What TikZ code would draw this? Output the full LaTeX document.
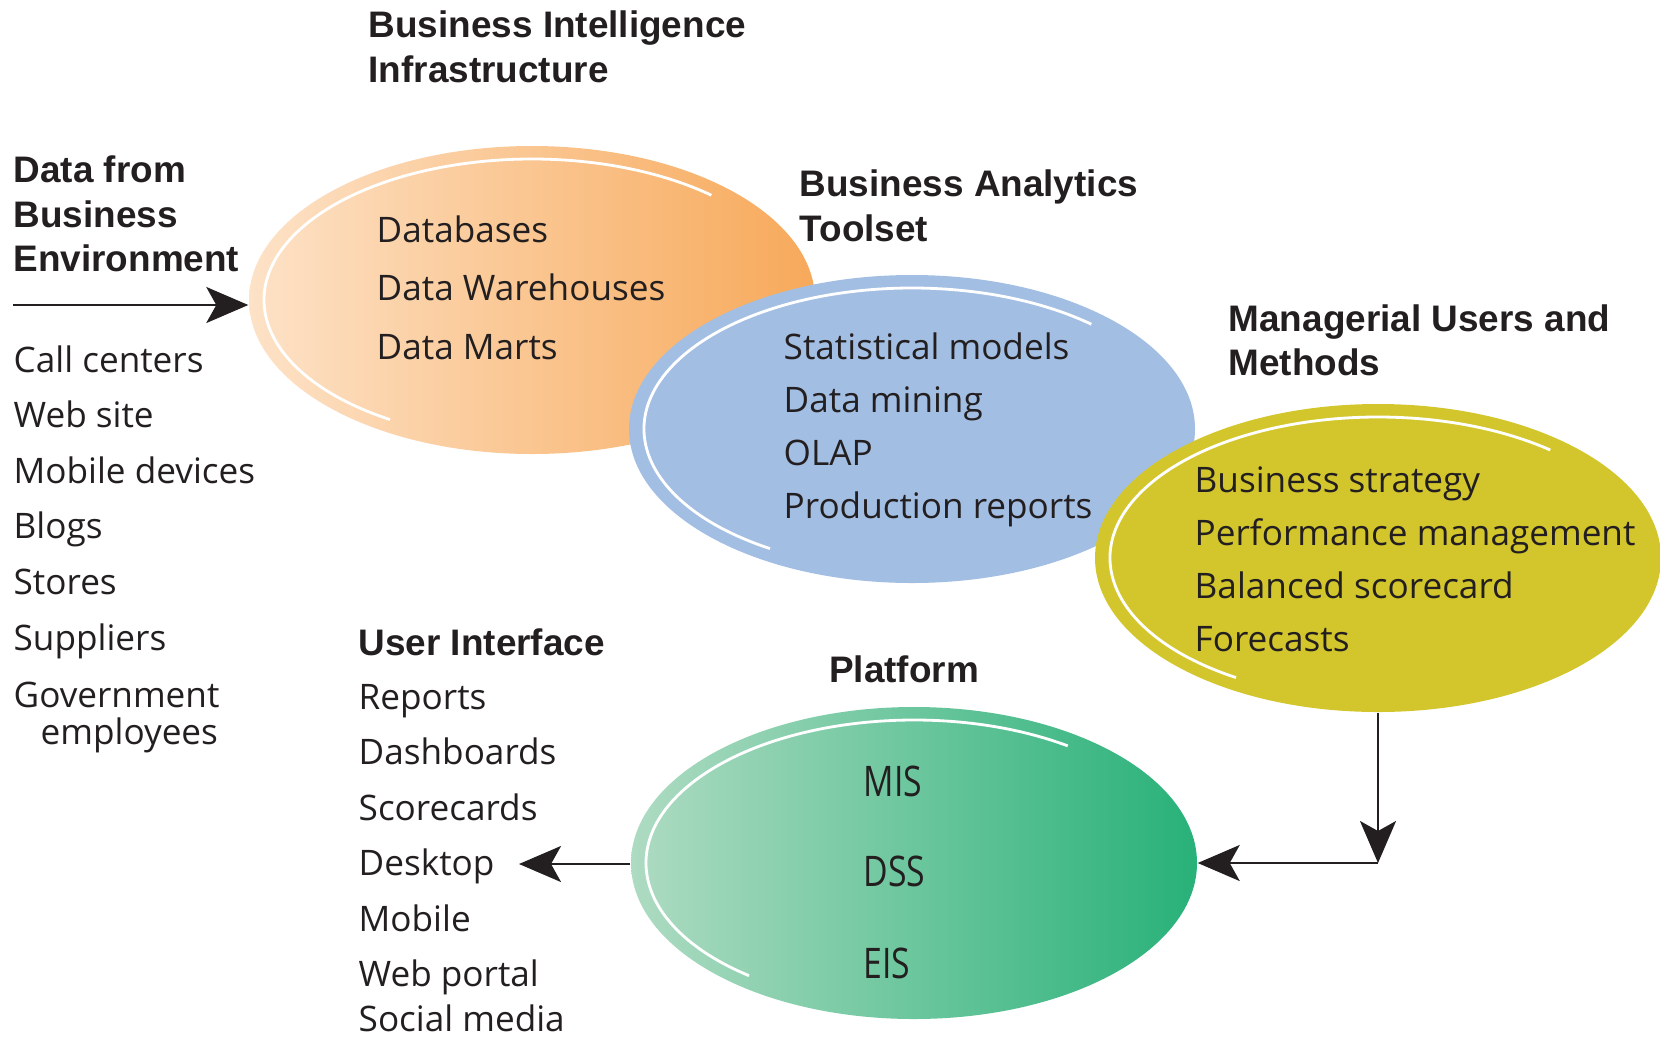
\documentclass[tikz,border=0pt]{standalone}
\usepackage{fontspec}
\setmainfont{Open Sans}
\newfontfamily\headfont{Liberation Sans}
\usetikzlibrary{shapes.geometric,arrows.meta}
\definecolor{orL}{HTML}{FDE2C7}
\definecolor{orR}{HTML}{F7A95A}
\definecolor{blu}{HTML}{A3BEE3}
\definecolor{yel}{HTML}{D3C62C}
\definecolor{grL}{HTML}{AEDBC2}
\definecolor{grR}{HTML}{28B179}
\definecolor{ink}{HTML}{231F20}
\begin{document}
\begin{tikzpicture}[
  head/.style={font=\headfont\bfseries\fontsize{10.5}{12.6}\selectfont, anchor=base west, inner sep=0pt, text=ink},
  body/.style={font=\fontsize{10}{12}\selectfont, anchor=base west, inner sep=0pt, text=ink},
  cond/.style={font=\fontsize{12}{14}\selectfont, anchor=base west, inner sep=0pt, text=ink},
  blob/.style={ellipse, inner sep=0pt, draw=none, minimum width=5.66cm, minimum height=3.08cm},
  hl/.style={white, line width=0.8pt},
  arr/.style={line width=0.6pt, draw=ink, -{Stealth[length=0.42cm, width=0.36cm, inset=0.1cm]}},
]
\useasboundingbox (0,0) rectangle (16.6,-10.36);

% ellipses
\node[blob, left color=orL, right color=orR] (bi) at (5.32,-3.00) {};
\draw[hl] ([shift={(238:2.68 and 1.41)}]bi.center) arc[start angle=238, end angle=48, x radius=2.68, y radius=1.41];
\node[blob, fill=blu] (ba) at (9.12,-4.29) {};
\draw[hl] ([shift={(238:2.68 and 1.41)}]ba.center) arc[start angle=238, end angle=48, x radius=2.68, y radius=1.41];
\node[blob, fill=yel] (mu) at (13.78,-5.58) {};
\draw[hl] ([shift={(238:2.68 and 1.41)}]mu.center) arc[start angle=238, end angle=50, x radius=2.68, y radius=1.41];
\node[blob, left color=grL, right color=grR, minimum height=3.12cm] (pf) at (9.14,-8.63) {};
\draw[hl] ([shift={(232:2.68 and 1.43)}]pf.center) arc[start angle=232, end angle=55, x radius=2.68, y radius=1.43];

% headers
\node[head] (h1a) at (3.68,-0.37) {Business Intelligence};
\node[head] (h1b) at (3.68,-0.82) {Infrastructure};
\node[head] (h2a) at (0.13,-1.82) {Data from};
\node[head] (h2b) at (0.13,-2.27) {Business};
\node[head] (h2c) at (0.13,-2.71) {Environment};
\node[head] (h3a) at (7.99,-1.96) {Business Analytics};
\node[head] (h3b) at (7.99,-2.41) {Toolset};
\node[head] (h4a) at (12.28,-3.31) {Managerial Users and};
\node[head] (h4b) at (12.28,-3.75) {Methods};
\node[head] (h5) at (3.58,-6.55) {User Interface};
\node[head, anchor=base] (h6) at (9.04,-6.82) {Platform};

% left list
\node[body] (l1) at (0.13,-3.72) {Call centers};
\node[body] (l2) at (0.13,-4.27) {Web site};
\node[body] (l3) at (0.13,-4.83) {Mobile devices};
\node[body] (l4) at (0.13,-5.38) {Blogs};
\node[body] (l5) at (0.13,-5.94) {Stores};
\node[body] (l6) at (0.13,-6.50) {Suppliers};
\node[body] (l7) at (0.13,-7.07) {Government};
\node[body] (l8) at (0.40,-7.44) {employees};

% orange text
\node[body] (o1) at (3.76,-2.42) {Databases};
\node[body] (o2) at (3.76,-3.00) {Data Warehouses};
\node[body] (o3) at (3.76,-3.59) {Data Marts};

% blue text
\node[body] (b1) at (7.83,-3.59) {Statistical models};
\node[body] (b2) at (7.83,-4.12) {Data mining};
\node[body] (b3) at (7.83,-4.65) {OLAP};
\node[body] (b4) at (7.83,-5.18) {Production reports};

% yellow text
\node[body] (y1) at (11.94,-4.92) {Business strategy};
\node[body] (y2) at (11.94,-5.45) {Performance management};
\node[body] (y3) at (11.94,-5.98) {Balanced scorecard};
\node[body] (y4) at (11.94,-6.51) {Forecasts};

% UI list
\node[body] (u1) at (3.58,-7.09) {Reports};
\node[body] (u2) at (3.58,-7.64) {Dashboards};
\node[body] (u3) at (3.58,-8.20) {Scorecards};
\node[body] (u4) at (3.58,-8.75) {Desktop};
\node[body] (u5) at (3.58,-9.31) {Mobile};
\node[body] (u6) at (3.58,-9.86) {Web portal};
\node[body] (u7) at (3.58,-10.31) {Social media};

% green text
\node[cond] (g1) at (8.63,-7.96) {\scalebox{0.8}[1]{MIS}};
\node[cond] (g2) at (8.63,-8.86) {\scalebox{0.8}[1]{DSS}};
\node[cond] (g3) at (8.63,-9.78) {\scalebox{0.8}[1]{EIS}};

% connectors
\coordinate (envs) at (0.13,-3.05);
\draw[arr] (envs) -- (envs -| bi.west);
\coordinate (dtip) at (5.19,-8.64);
\draw[arr] (pf.west |- dtip) -- (dtip);
\coordinate (corner) at (mu.south |- pf.east);
\draw[arr] (mu.south) -- (corner);
\draw[arr] (corner) -- (pf.east);
\end{tikzpicture}
\end{document}
